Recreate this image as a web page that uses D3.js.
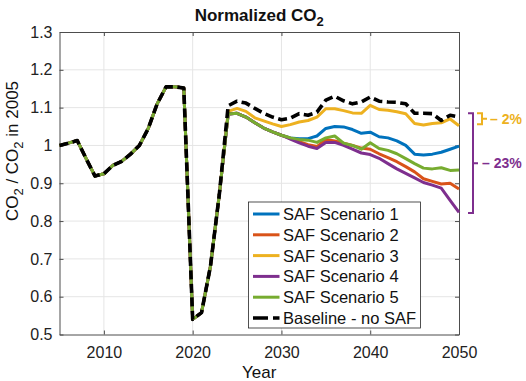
<!DOCTYPE html>
<html><head><meta charset="utf-8">
<script src="https://cdn.jsdelivr.net/npm/d3@7/dist/d3.min.js"></script>
<style>
html,body{margin:0;padding:0;background:#fff;}
svg{display:block;font-family:"Liberation Sans",Arial,Helvetica,sans-serif;}
</style></head>
<body>
<svg id="chart" width="526" height="381"></svg>
<script>
// ---------- DATA ----------
const historyYears = d3.range(2005, 2024);          // 2005..2023 (shared by all series)
const historyValues = [1.0, 1.006, 1.013, 0.965, 0.919, 0.925, 0.947, 0.958, 0.977, 1.0,
  1.045, 1.11, 1.155, 1.155, 1.152, 0.54, 0.558, 0.68, 0.87];
const futureYears = d3.range(2024, 2051);           // 2024..2050
const scenario1 = [1.083, 1.085, 1.075, 1.06, 1.046, 1.036, 1.027, 1.02, 1.018, 1.018, 1.025, 1.045, 1.05, 1.049, 1.042, 1.032, 1.035, 1.023, 1.02, 1.012, 1.0, 0.977, 0.975, 0.977, 0.982, 0.99, 0.998];
const scenario2 = [1.083, 1.085, 1.075, 1.06, 1.046, 1.036, 1.027, 1.019, 1.01, 1.002, 0.997, 1.016, 1.012, 1.006, 1.0, 0.993, 0.99, 0.978, 0.968, 0.957, 0.944, 0.93, 0.912, 0.905, 0.898, 0.9, 0.885];
const scenario3 = [1.090, 1.098, 1.090, 1.073, 1.065, 1.057, 1.05, 1.055, 1.062, 1.066, 1.075, 1.097, 1.097, 1.092, 1.086, 1.085, 1.106, 1.095, 1.093, 1.089, 1.084, 1.058, 1.054, 1.058, 1.06, 1.07, 1.052];
const scenario4 = [1.083, 1.085, 1.075, 1.06, 1.046, 1.036, 1.027, 1.017, 1.007, 0.998, 0.992, 1.008, 1.008, 1.0, 0.99, 0.98, 0.976, 0.966, 0.952, 0.938, 0.926, 0.914, 0.902, 0.895, 0.887, 0.855, 0.823];
const scenario5 = [1.083, 1.085, 1.075, 1.06, 1.046, 1.036, 1.027, 1.02, 1.016, 1.014, 1.008, 1.02, 1.025, 1.006, 1.0, 0.99, 1.007, 0.992, 0.987, 0.978, 0.965, 0.952, 0.94, 0.938, 0.941, 0.934, 0.935];
const baseline  = [1.105, 1.117, 1.112, 1.098, 1.085, 1.075, 1.068, 1.072, 1.084, 1.080, 1.088, 1.120, 1.130, 1.118, 1.110, 1.115, 1.128, 1.117, 1.115, 1.114, 1.110, 1.085, 1.085, 1.084, 1.066, 1.080, 1.075];
const seriesNames = ["SAF Scenario 1", "SAF Scenario 2", "SAF Scenario 3", "SAF Scenario 4", "SAF Scenario 5", "Baseline - no SAF"];
const seriesColors = ["#0072BD", "#D95319", "#EDB120", "#7E2F8E", "#77AC30", "#000000"];
const xTicks = [2010, 2020, 2030, 2040, 2050];
const yTicks = [0.5, 0.6, 0.7, 0.8, 0.9, 1.0, 1.1, 1.2, 1.3];
const reductionLabels = ["\u2013 2%", "\u2013 23%"];

// ---------- LAYOUT ----------
const svg = d3.select("#chart");
const m = {left: 59.5, right: 459, top: 32, bottom: 334.5};
const x = d3.scaleLinear().domain([2005, 2050]).range([m.left, m.right]);
const y = d3.scaleLinear().domain([0.5, 1.3]).range([m.bottom, m.top]);
const axisCol = "#4d4d4d";

// grid
svg.append("g").selectAll("line.gx").data(xTicks.slice(0, -1)).join("line")
  .attr("x1", d => x(d)).attr("x2", d => x(d)).attr("y1", m.top).attr("y2", m.bottom)
  .attr("stroke", "#e5e5e5").attr("stroke-width", 1);
svg.append("g").selectAll("line.gy").data(yTicks.slice(1, -1)).join("line")
  .attr("x1", m.left).attr("x2", m.right).attr("y1", d => y(d)).attr("y2", d => y(d))
  .attr("stroke", "#e5e5e5").attr("stroke-width", 1);

// axes
const fmtY = d => (d === 1 ? "1" : d3.format(".1f")(d));
const gx = svg.append("g").attr("transform", `translate(0,${m.bottom})`)
  .call(d3.axisBottom(x).tickValues(xTicks).tickFormat(d3.format("d")).tickSizeInner(-4).tickSizeOuter(0).tickPadding(12));
const gy = svg.append("g").attr("transform", `translate(${m.left},0)`)
  .call(d3.axisLeft(y).tickValues(yTicks).tickFormat(fmtY).tickSizeInner(-4).tickSizeOuter(0).tickPadding(7));
const gx2 = svg.append("g").attr("transform", `translate(0,${m.top})`)
  .call(d3.axisTop(x).tickValues(xTicks).tickFormat("").tickSizeInner(-4).tickSizeOuter(0));
const gy2 = svg.append("g").attr("transform", `translate(${m.right},0)`)
  .call(d3.axisRight(y).tickValues(yTicks).tickFormat("").tickSizeInner(-4).tickSizeOuter(0));
[gx, gy, gx2, gy2].forEach(g => {
  g.select(".domain").attr("stroke", axisCol).attr("stroke-width", 1);
  g.selectAll(".tick line").attr("stroke", axisCol);
  g.selectAll(".tick text").attr("fill", "#222").style("font-size", "16px")
    .style("font-family", "'Liberation Sans', Arial, sans-serif");
});

// series data
const hist = historyYears.map((yr, i) => ({yr, v: historyValues[i]}));
const mk = arr => hist.concat(futureYears.map((yr, i) => ({yr, v: arr[i]})));
const allSeries = [scenario1, scenario2, scenario3, scenario4, scenario5, baseline].map(mk);
const line = d3.line().x(d => x(d.yr)).y(d => y(d.v));

svg.append("g").selectAll("path").data(allSeries).join("path")
  .attr("d", line)
  .attr("fill", "none")
  .attr("stroke", (d, i) => seriesColors[i])
  .attr("stroke-width", (d, i) => i === 5 ? 3.6 : 3)
  .attr("stroke-dasharray", (d, i) => i === 5 ? "9,4.5" : null)
  .attr("stroke-linejoin", "round");

// legend
const lg = svg.append("g");
const lx = 248.5, ly = 202, lw = 172, lh = 126;
lg.append("rect").attr("x", lx).attr("y", ly).attr("width", lw).attr("height", lh)
  .attr("fill", "#fff").attr("stroke", "#262626").attr("stroke-width", 0.8);
seriesNames.forEach((nm, i) => {
  const yy = ly + 12 + i * 20.8;
  lg.append("line").attr("x1", lx + 4.5).attr("x2", lx + 31).attr("y1", yy).attr("y2", yy)
    .attr("stroke", seriesColors[i]).attr("stroke-width", i === 5 ? 3.6 : 3)
    .attr("stroke-dasharray", i === 5 ? "15,5" : null);
  lg.append("text").attr("x", lx + 34.5).attr("y", yy).attr("dy", "0.36em")
    .style("font-size", "16.5px").attr("fill", "#111").text(nm);
});

// title
const t = svg.append("text").attr("x", (m.left + m.right) / 2).attr("y", 21)
  .attr("text-anchor", "middle").style("font-size", "17px").style("font-weight", "bold").attr("fill", "#111");
t.append("tspan").text("Normalized CO");
t.append("tspan").attr("dy", 5).style("font-size", "13px").text("2");

// x label
svg.append("text").attr("x", (m.left + m.right) / 2).attr("y", 378).attr("text-anchor", "middle")
  .style("font-size", "17px").attr("fill", "#111").text("Year");

// y label
const yl = svg.append("text").attr("transform", "translate(18,151) rotate(-90)")
  .attr("text-anchor", "middle").style("font-size", "17px").attr("fill", "#111");
yl.append("tspan").text("CO");
yl.append("tspan").attr("dy", 5).style("font-size", "13px").text("2");
yl.append("tspan").attr("dy", -5).text(" / CO");
yl.append("tspan").attr("dy", 5).style("font-size", "13px").text("2");
yl.append("tspan").attr("dy", -5).text(" in 2005");

// reduction annotations (brackets at 2050)
const endBase = baseline[baseline.length - 1];
const endS3 = scenario3[scenario3.length - 1];
const endS4 = scenario4[scenario4.length - 1];
const ann = svg.append("g").attr("fill", "none").attr("stroke-width", 2);
// yellow bracket
const yb0 = y(endBase + 0.01), yb1 = y(endS3 + 0.004);
const bx = m.right + 18;
ann.append("path").attr("stroke", seriesColors[2])
  .attr("d", `M${bx},${yb0}H${bx + 5}V${yb1}H${bx}M${bx + 5},${(yb0 + yb1) / 2}H${bx + 10}`);
svg.append("text").attr("x", bx + 13).attr("y", (yb0 + yb1) / 2).attr("dy", "0.36em")
  .style("font-size", "14px").style("font-weight", "bold").attr("fill", seriesColors[2]).text(reductionLabels[0]);
// purple bracket
const pb0 = y(endBase + 0.01), pb1 = y(endS4 - 0.002);
const px = m.right + 9;
ann.append("path").attr("stroke", seriesColors[3])
  .attr("d", `M${px},${pb0}H${px + 5}V${pb1}H${px}M${px + 5},${(pb0 + pb1) / 2}H${px + 10}`);
svg.append("text").attr("x", px + 14).attr("y", (pb0 + pb1) / 2).attr("dy", "0.36em")
  .style("font-size", "14px").style("font-weight", "bold").attr("fill", seriesColors[3]).text(reductionLabels[1]);
</script>
</body></html>
